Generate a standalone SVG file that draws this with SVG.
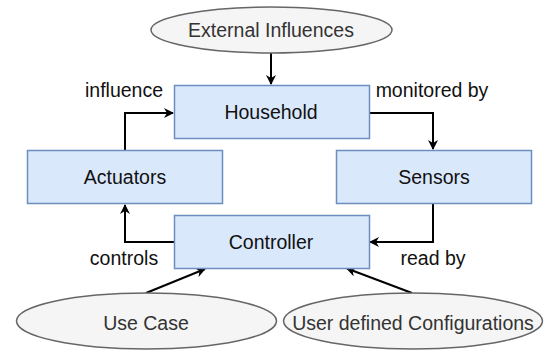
<svg xmlns="http://www.w3.org/2000/svg" width="544" height="350" viewBox="0 0 544 350">
  <defs>
    <marker id="arrow" viewBox="0 0 10 10" refX="9" refY="5" markerWidth="10" markerHeight="10" markerUnits="userSpaceOnUse" orient="auto">
      <path d="M0,0 L10,5 L0,10 L3,5 Z" fill="#000"/>
    </marker>
    <style>
      text { font-family: "Liberation Sans", Arial, sans-serif; font-size: 19.5px; text-anchor: middle; }
      .box rect { fill: #dae8fc; stroke: #6c8ebf; stroke-width: 1.5; }
      .box text { fill: #111; }
      .oval ellipse { fill: #f5f5f5; stroke: #666; stroke-width: 1.5; }
      .oval text { fill: #333; }
      .conn path { fill: none; stroke: #000; stroke-width: 2; marker-end: url(#arrow); }
      .lbl { fill: #111; }
    </style>
  </defs>
  <rect width="544" height="350" fill="#fff"/>

  <g id="connectors" class="conn">
    <path d="M271,53 L271,84"/>
    <path d="M125,150 L125,113 L173,113"/>
    <path d="M369,113 L433,113 L433,149"/>
    <path d="M433,204 L433,242 L370,242"/>
    <path d="M174,242 L125,242 L125,205"/>
    <path d="M146,293 L205,269"/>
    <path d="M412,293 L347,268.5"/>
  </g>
  <g id="labels">
    <text class="lbl" x="124" y="97">influence</text>
    <text class="lbl" x="432" y="97">monitored by</text>
    <text class="lbl" x="124" y="265">controls</text>
    <text class="lbl" x="433" y="265">read by</text>
  </g>

  <g id="external" class="oval">
    <ellipse cx="271.5" cy="30" rx="120.5" ry="23"/>
    <text x="271" y="37">External Influences</text>
  </g>
  <g id="household" class="box">
    <rect x="174.5" y="85.5" width="195" height="53"/>
    <text x="271" y="119">Household</text>
  </g>
  <g id="actuators" class="box">
    <rect x="27.5" y="150.5" width="195" height="53"/>
    <text x="125" y="184">Actuators</text>
  </g>
  <g id="sensors" class="box">
    <rect x="336.5" y="150.5" width="195" height="53"/>
    <text x="434" y="184">Sensors</text>
  </g>
  <g id="controller" class="box">
    <rect x="174.5" y="215.5" width="195" height="53"/>
    <text x="271" y="249">Controller</text>
  </g>
  <g id="usecase" class="oval">
    <ellipse cx="146.5" cy="321" rx="130" ry="28"/>
    <text x="146" y="330">Use Case</text>
  </g>
  <g id="userconfig" class="oval">
    <ellipse cx="413" cy="321" rx="129.5" ry="28"/>
    <text x="413" y="330">User defined Configurations</text>
  </g>
</svg>
